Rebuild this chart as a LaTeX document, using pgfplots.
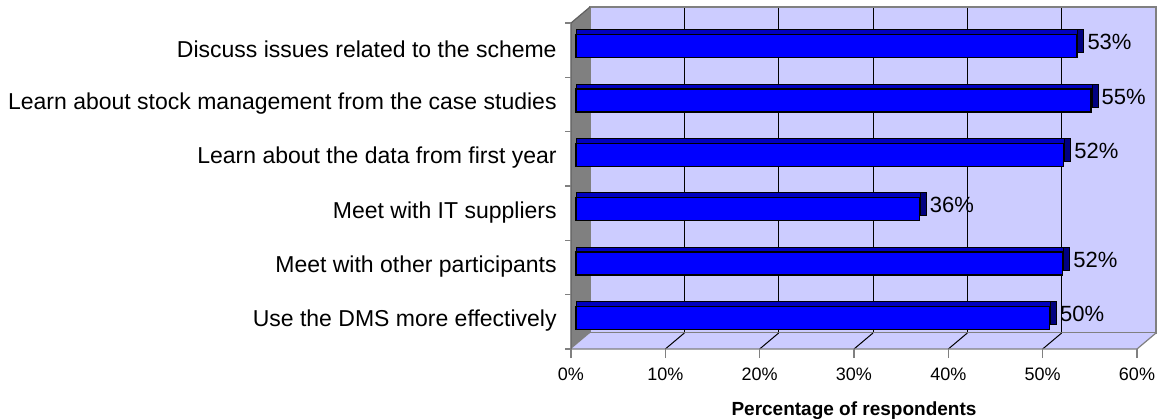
\documentclass[border=0pt]{standalone}
\usepackage{fontspec}
\setmainfont{Liberation Sans}
\usepackage{pgfplots}
\pgfplotsset{compat=1.18}
\usepackage{pgfplotstable}
\definecolor{lav}{HTML}{CCCCFF}
\definecolor{wallgray}{HTML}{808080}
\definecolor{edgegray}{HTML}{606060}
\definecolor{barblue}{HTML}{0000FF}
\definecolor{bartop}{HTML}{0000C0}
\definecolor{barside}{HTML}{000080}
\pgfkeys{/pgf/number format/assume math mode=true}

\pgfplotstableread{
x y lab
53.1 0 53
54.6 1 55
51.7 2 52
36.4 3 36
51.6 4 52
50.2 5 50
}\data

\begin{document}
\begin{tikzpicture}
\useasboundingbox (0,0) rectangle (579pt,209.5pt);
% back wall
\begin{axis}[at={(295pt,43pt)}, anchor=south west, scale only axis,
  width=283pt, height=163pt, xmin=0, xmax=60, ymin=0, ymax=1,
  axis background/.style={fill=lav},
  axis line style={draw=wallgray, line width=0.6pt},
  xtick={10,20,30,40,50}, xticklabels={}, major tick length=0pt,
  ytick=\empty, xmajorgrids, grid style={black, line width=0.5pt}]
\end{axis}
% front plane
\begin{axis}[at={(285.5pt,35pt)}, anchor=south west, scale only axis,
  width=283pt, height=163pt, xmin=0, xmax=60, ymin=-0.5, ymax=5.5,
  y dir=reverse, clip=false, axis line style={draw=none},
  xtick={0,10,...,60}, xticklabels={0\%,10\%,20\%,30\%,40\%,50\%,60\%},
  xtick style={draw=wallgray, line width=0.6pt}, tick align=outside,
  xtick pos=left, ytick pos=left, major tick length=4.5pt,
  ytick={0,...,5},
  yticklabels={Discuss issues related to the scheme,
    Learn about stock management from the case studies,
    Learn about the data from first year,
    Meet with IT suppliers,
    Meet with other participants,
    Use the DMS more effectively},
  ytick style={draw=none},
  yticklabel style={font=\fontsize{11.5}{13}\selectfont, inner sep=0pt, xshift=-2.5pt, yshift=0.5pt},
  xticklabel style={font=\fontsize{9}{10}\selectfont, yshift=-1.5pt},
  xlabel={Percentage of respondents},
  xlabel style={font=\bfseries\fontsize{9.5}{10}\selectfont, yshift=-3.5pt},
]
% floor
\fill[lav] (axis cs:0,5.5) -- (axis cs:60,5.5) -- ([shift={(9.5pt,8pt)}]axis cs:60,5.5) -- ([shift={(9.5pt,8pt)}]axis cs:0,5.5) -- cycle;
\draw[black, line width=0.5pt] (axis cs:10,5.5) -- ([shift={(9.5pt,8pt)}]axis cs:10,5.5);
\draw[black, line width=0.5pt] (axis cs:20,5.5) -- ([shift={(9.5pt,8pt)}]axis cs:20,5.5);
\draw[black, line width=0.5pt] (axis cs:30,5.5) -- ([shift={(9.5pt,8pt)}]axis cs:30,5.5);
\draw[black, line width=0.5pt] (axis cs:40,5.5) -- ([shift={(9.5pt,8pt)}]axis cs:40,5.5);
\draw[black, line width=0.5pt] (axis cs:50,5.5) -- ([shift={(9.5pt,8pt)}]axis cs:50,5.5);
\draw[wallgray, line width=0.6pt] (axis cs:0,5.5) -- (axis cs:60,5.5) -- ([shift={(9.5pt,8pt)}]axis cs:60,5.5);
% left wall
\fill[wallgray] (axis cs:0,-0.5) -- ([shift={(9.5pt,8pt)}]axis cs:0,-0.5) -- ([shift={(9.5pt,8pt)}]axis cs:0,5.5) -- (axis cs:0,5.5) -- cycle;
\draw[edgegray, line width=0.6pt] (axis cs:0,5.5) -- (axis cs:0,-0.5) -- ([shift={(9.5pt,8pt)}]axis cs:0,-0.5);
% category boundary ticks
\draw[wallgray, line width=0.6pt] (axis cs:0,-0.5) -- ++(-3pt,0pt);
\draw[wallgray, line width=0.6pt] (axis cs:0,0.5) -- ++(-3pt,0pt);
\draw[wallgray, line width=0.6pt] (axis cs:0,1.5) -- ++(-3pt,0pt);
\draw[wallgray, line width=0.6pt] (axis cs:0,2.5) -- ++(-3pt,0pt);
\draw[wallgray, line width=0.6pt] (axis cs:0,3.5) -- ++(-3pt,0pt);
\draw[wallgray, line width=0.6pt] (axis cs:0,4.5) -- ++(-3pt,0pt);
\draw[wallgray, line width=0.6pt] (axis cs:0,5.5) -- ++(-3pt,0pt);
% bars: side, top, front
\addplot[xbar, bar width=11.5pt, bar shift=4.5pt, fill=barside, draw=black, line width=0.5pt, xshift=6pt]
  table[x=x, y=y] {\data};
\addplot[xbar, bar width=11.5pt, bar shift=4.5pt, fill=bartop, draw=black, line width=0.5pt, xshift=3pt]
  table[x=x, y=y] {\data};
\addplot[xbar, bar width=11.5pt, bar shift=2pt, fill=barblue, draw=black, line width=0.6pt, xshift=2.5pt,
  point meta=explicit,
  nodes near coords={\pgfmathprintnumber[fixed,precision=0]{\pgfplotspointmeta}\%},
  every node near coord/.append style={anchor=west, inner sep=0pt, xshift=5pt, yshift=4pt,
    font=\fontsize{11}{12}\selectfont, text=black}]
  table[x=x, y=y, meta=lab] {\data};
\end{axis}
\end{tikzpicture}
\end{document}
